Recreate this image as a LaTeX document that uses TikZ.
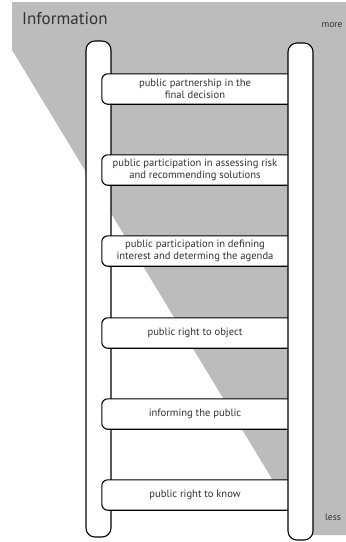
\documentclass[tikz,border=0pt]{standalone}
\usepackage{fontspec}
\setmainfont{PT Sans}
\definecolor{bggray}{RGB}{188,188,188}
\definecolor{txtgray}{RGB}{50,50,50}
\tikzset{
  rail/.style={draw,line width=1.1pt,fill=white,rounded corners=9pt,minimum width=25pt,inner sep=0pt},
  rung/.style={fill=white,minimum width=186pt,minimum height=30pt,inner sep=0pt,align=center,
    font=\fontsize{10.6}{12.5}\selectfont,text=txtgray},
  rungedge/.style={draw,line width=1.1pt,rounded corners=6pt},
  sidelabel/.style={text=txtgray,font=\fontsize{9.5}{11}\selectfont,inner sep=0pt},
}

\begin{document}
\begin{tikzpicture}[x=1pt,y=-1pt]
        \useasboundingbox (0,0) rectangle (346,542);
        % shaded background
        \fill[bggray] (12,2) -- (346,2) -- (346,535) -- (306,535) -- (12,50) -- cycle;
        \node [rail,minimum height=496pt] (leftrail) at (98.5,289) {};
        \foreach \name/\y/\txt in {stepa/89/{public partnership in the\\final decision},
                stepb/170/{public participation in assessing risk\\and recommending solutions},
                stepc/251/{public participation in defining\\interest and determing the agenda},
                stepd/333/{public right to object},
                stepe/414/{informing the public},
                stepf/495/{public right to know}}{
            \node [rung] (\name) at (195,\y) {\txt};
            \draw[rungedge] (\name.north east) -- (\name.north west) -- (\name.south west) -- (\name.south east);
        }
        \node [rail,minimum height=497pt] (rightrail) at (300.5,291.5) {};
        \node [text=txtgray,font=\fontsize{17}{19}\selectfont,anchor=west,inner sep=0pt] (title) at (22,19) {Information};
        \node [sidelabel] (more) at (332,25) {more};
        \node [sidelabel] (less) at (333,517) {less};
\end{tikzpicture}
\end{document}
